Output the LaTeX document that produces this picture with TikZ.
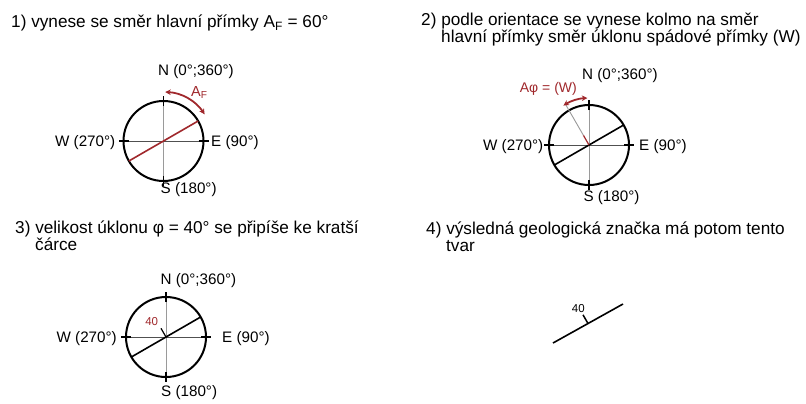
\documentclass[tikz,border=0pt]{standalone}
\usepackage{fontspec}
\setmainfont{Liberation Sans}
\usetikzlibrary{arrows.meta}
\definecolor{dred}{HTML}{A0282C}
\definecolor{axgray}{HTML}{9A9A9A}
\definecolor{axdark}{HTML}{505050}
\newcommand\mycompass[1]{%
  \draw[vax] ([shift={(0,-40)}]#1) -- ([shift={(0,40)}]#1);
  \draw[hax] ([shift={(-40,0)}]#1) -- ([shift={(40,0)}]#1);
  \draw[rim] (#1) circle[radius=40];
  \draw[tk] ([shift={(0,-35)}]#1) -- ([shift={(0,-45)}]#1);
  \draw[tk] ([shift={(0,35)}]#1) -- ([shift={(0,45)}]#1);
  \draw[tk] ([shift={(-35,0)}]#1) -- ([shift={(-45,0)}]#1);
  \draw[tk] ([shift={(35,0)}]#1) -- ([shift={(45,0)}]#1);
}
\begin{document}
\begin{tikzpicture}[x=1bp,y=-1bp,
  title/.style={anchor=base west,inner sep=0,font=\fontsize{17.2bp}{20bp}\selectfont},
  lbl/.style={inner sep=0,font=\fontsize{15.2bp}{18bp}\selectfont},
  rim/.style={line width=2bp},
  tk/.style={line width=1.9bp},
  vax/.style={axgray,line width=0.9bp},
  hax/.style={axdark,line width=0.8bp},
  strike/.style={line width=1.6bp},
  arr/.style={dred,line width=1.8bp,{Stealth[length=5.5bp,width=5.5bp]}-{Stealth[length=5.5bp,width=5.5bp]}},
  small/.style={inner sep=0,font=\fontsize{11.5bp}{14bp}\selectfont}
]
\useasboundingbox[fill=white] (0,0) rectangle (806,403);

% titles
\node[title] (t1) at (11,27.7) {1) vynese se směr hlavní přímky A\textsubscript{F} = 60°};
\node[title] (t2a) at (421,25.7) {2) podle orientace se vynese kolmo na směr};
\node[title] (t2b) at (441,42.5) {hlavní přímky směr úklonu spádové přímky (W)};
\node[title] (t3a) at (15,233.3) {3) velikost úklonu φ = 40° se připíše ke kratší};
\node[title] (t3b) at (35,250.7) {čárce};
\node[title] (t4a) at (426,234) {4) výsledná geologická značka má potom tento};
\node[title] (t4b) at (446,251.5) {tvar};

% panel 1
\coordinate (c1) at (163.5,141);
\mycompass{c1}
\draw[strike,dred] ([shift={(-30:40)}]c1) -- ([shift={(150:40)}]c1);
\draw[arr] ([shift={(-88:49)}]c1) arc[start angle=-88,end angle=-33,radius=49];
\node[lbl,anchor=base west] (n1) at (158,75.7) {N (0°;360°)};
\node[lbl,anchor=base west] (s1) at (160.5,193.3) {S (180°)};
\node[lbl,anchor=base east] (w1) at (115.5,146.5) {W (270°)};
\node[lbl,anchor=base west] (e1) at (211,146.5) {E (90°)};
\node[inner sep=0,anchor=base west,text=dred,font=\fontsize{14.5bp}{16bp}\selectfont] (af) at (191,96.7) {A\textsubscript{F}};

% panel 2
\coordinate (c2) at (589,145);
\mycompass{c2}
\draw[strike] ([shift={(-30:40)}]c2) -- ([shift={(150:40)}]c2);
\coordinate (d2) at ([shift={(240:11)}]c2);
\coordinate (d2e) at ([shift={(240:46)}]c2);
\draw[axgray,line width=0.9bp] (d2) -- (d2e);
\draw[dred,line width=1.2bp] (c2) -- (d2);
\draw[arr] ([shift={(237:47)}]c2) arc[start angle=237,end angle=268,radius=47];
\node[lbl,anchor=base west] (n2) at (582,79.3) {N (0°;360°)};
\node[lbl,anchor=base west] (s2) at (583.3,201.7) {S (180°)};
\node[lbl,anchor=base east] (w2) at (543.5,150.5) {W (270°)};
\node[lbl,anchor=base west] (e2) at (639,150.5) {E (90°)};
\node[inner sep=0,anchor=base east,text=dred,font=\fontsize{14bp}{16bp}\selectfont] (aphi) at (577,92.5) {Aφ = (W)};

% panel 3
\coordinate (c3) at (166,337);
\mycompass{c3}
\draw[strike] ([shift={(-30:40)}]c3) -- ([shift={(150:40)}]c3);
\coordinate (d3) at ([shift={(240:10)}]c3);
\draw[line width=1.2bp] (c3) -- (d3);
\node[small,text=dred] (v3) at (151.7,321.7) {40};
\node[lbl,anchor=base west] (n3) at (160.5,284) {N (0°;360°)};
\node[lbl,anchor=base west] (s3) at (161,396.7) {S (180°)};
\node[lbl,anchor=base east] (w3) at (117,342.5) {W (270°)};
\node[lbl,anchor=base west] (e3) at (222,342.5) {E (90°)};

% panel 4
\coordinate (p4a) at (553,343);
\coordinate (p4b) at (623,304);
\coordinate (p4m) at (588,323.5);
\coordinate (p4t) at ([shift={(240:10)}]p4m);
\draw[strike] (p4a) -- (p4b);
\draw[line width=1.5bp] (p4m) -- (p4t);
\node[small] (v4) at (578.3,308.3) {40};
\end{tikzpicture}
\end{document}
